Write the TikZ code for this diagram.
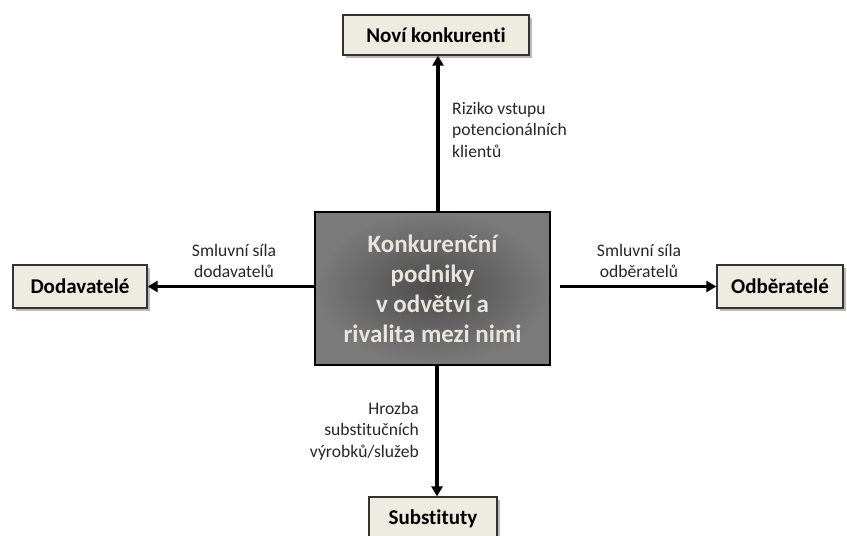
\documentclass[tikz,border=0pt]{standalone}
\usepackage{fontspec}
\setmainfont[RawFeature={-liga;-dlig;-clig}]{Carlito}
\usetikzlibrary{arrows.meta,shadows}
\definecolor{boxfill}{HTML}{EEECE1}
\definecolor{centertext}{HTML}{E8E6DC}
\begin{document}
\begin{tikzpicture}[x=1pt,y=-1pt]
\useasboundingbox (0,0) rectangle (847,536);
\tikzset{
  forcebox/.style={draw=black!80, line width=1.3pt, fill=boxfill, inner sep=0pt,
    font=\fontsize{21}{25}\selectfont\bfseries,
    drop shadow={shadow xshift=3pt, shadow yshift=-3pt, opacity=0.45, fill=black!60}},
  centerbox/.style={draw=black, line width=2.2pt, inner sep=0pt,
    inner color=black!70, outer color=black!52,
    minimum width=235pt, minimum height=153pt,
    text=centertext, align=center,
    font=\fontsize{25}{30}\selectfont\bfseries},
  arr/.style={line width=3.2pt, -{Triangle[length=10pt,width=11pt]}},
  lbl/.style={inner sep=0pt, font=\fontsize{17.6}{21.3}\selectfont, text=black!85}
}
\node[forcebox, minimum width=186pt, minimum height=40pt] (top) at (436,35) {Noví konkurenti};
\node[forcebox, minimum width=134pt, minimum height=43pt] (dod) at (80,286.5) {Dodavatelé};
\node[forcebox, minimum width=126pt, minimum height=43pt] (odb) at (780,286.5) {Odběratelé};
\node[forcebox, minimum width=128pt, minimum height=44pt] (sub) at (433,519) {Substituty};
\node[centerbox] (center) at (432.5,288.5) {Konkurenční\\podniky\\v odvětví a\\rivalita mezi nimi};

\coordinate (rs) at (560,286.5);
\draw[arr] ([xshift=5.5pt]center.north) -- ([xshift=2pt]top.south);
\draw[arr] (center.west |- dod.east) -- (dod.east);
\draw[arr] (rs) -- (odb.west);
\draw[arr] ([xshift=4.5pt]center.south) -- ([xshift=4pt]sub.north);

\node[lbl, anchor=north west, align=left] (l1) at (452,102) {Riziko vstupu\\potencionálních\\klientů};
\node[lbl, anchor=north, align=center] (l2) at (234,244) {Smluvní síla\\dodavatelů};
\node[lbl, anchor=north, align=center] (l3) at (639,244) {Smluvní síla\\odběratelů};
\node[lbl, anchor=north east, align=right] (l4) at (419,402) {Hrozba\\substitučních\\výrobků/služeb};
\end{tikzpicture}
\end{document}
